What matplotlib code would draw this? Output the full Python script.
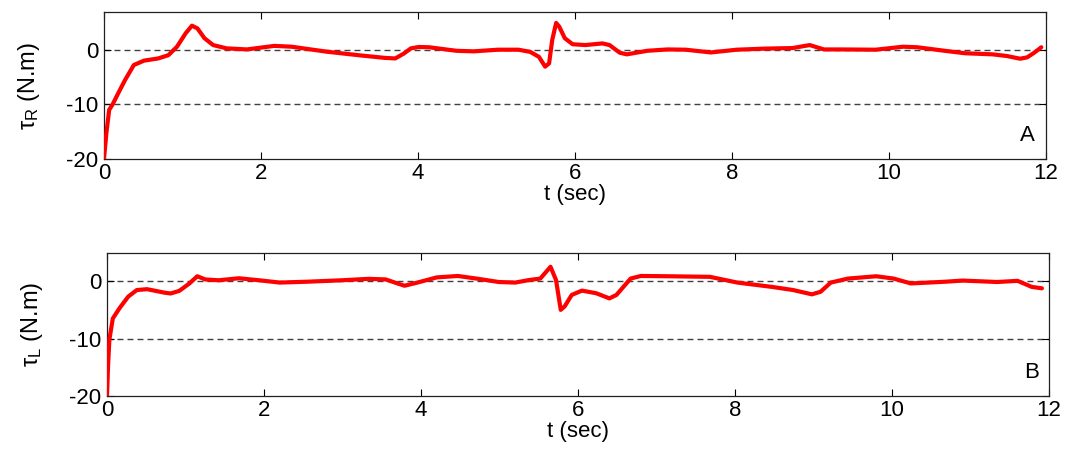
import matplotlib
matplotlib.use("Agg")
import matplotlib.pyplot as plt

plt.rcParams['font.family'] = ['Liberation Sans', 'DejaVu Sans']
plt.rcParams['mathtext.fontset'] = 'custom'
plt.rcParams['mathtext.rm'] = 'Liberation Sans'
plt.rcParams['mathtext.it'] = 'Liberation Sans'
plt.rcParams['lines.scale_dashes'] = False
plt.rcParams['axes.unicode_minus'] = False

# ---- data: right wheel torque (panel A) ----
t_R = [0.0, 0.03, 0.066, 0.11, 0.18, 0.27, 0.38, 0.51, 0.69, 0.82, 0.93, 1.04,
       1.12, 1.19, 1.28, 1.39, 1.56, 1.82, 2.17, 2.39, 2.83, 3.27, 3.58, 3.71,
       3.82, 3.91, 4.01, 4.14, 4.49, 4.71, 5.02, 5.28, 5.43, 5.54, 5.62, 5.67,
       5.71, 5.76, 5.80, 5.87, 5.97, 6.13, 6.35, 6.44, 6.57, 6.66, 6.92, 7.18,
       7.41, 7.73, 8.06, 8.42, 8.77, 8.99, 9.17, 9.39, 9.83, 10.18, 10.36,
       10.71, 10.97, 11.32, 11.5, 11.67, 11.76, 11.85, 11.94]
tau_R = [-20.0, -15.3, -11.0, -10.0, -8.0, -5.5, -2.8, -2.0, -1.6, -1.0, 0.55, 3.0,
         4.4, 3.9, 2.1, 0.85, 0.25, 0.05, 0.7, 0.55, -0.35, -1.05, -1.5, -1.6,
         -0.7, 0.25, 0.5, 0.45, -0.2, -0.3, 0.0, 0.0, -0.4, -1.3, -3.1, -2.5,
         1.8, 4.9, 4.2, 2.1, 1.0, 0.85, 1.15, 0.85, -0.55, -0.85, -0.2, 0.05,
         0.0, -0.5, 0.0, 0.2, 0.3, 0.85, 0.05, 0.05, 0.0, 0.55, 0.45,
         -0.2, -0.65, -0.85, -1.15, -1.65, -1.4, -0.55, 0.45]

# ---- data: left wheel torque (panel B) ----
t_L = [0.0, 0.013, 0.03, 0.074, 0.16, 0.27, 0.38, 0.51, 0.73, 0.81, 0.92, 1.05,
       1.15, 1.25, 1.42, 1.68, 1.94, 2.2, 2.55, 2.99, 3.33, 3.55, 3.7, 3.79,
       3.94, 4.2, 4.47, 4.73, 4.99, 5.2, 5.38, 5.52, 5.65, 5.72, 5.78, 5.83,
       5.92, 6.05, 6.23, 6.4, 6.49, 6.67, 6.8, 7.15, 7.68, 8.03, 8.47, 8.74,
       8.98, 9.09, 9.22, 9.44, 9.8, 10.02, 10.24, 10.68, 10.9, 11.34, 11.6,
       11.78, 11.91]
tau_L = [-20.0, -14.9, -10.2, -6.5, -4.7, -2.7, -1.55, -1.4, -2.0, -2.15, -1.7, -0.4,
         0.85, 0.3, 0.15, 0.5, 0.15, -0.25, -0.1, 0.15, 0.4, 0.3, -0.4, -0.8,
         -0.3, 0.65, 0.9, 0.4, -0.15, -0.25, 0.2, 0.45, 2.5, 0.2, -5.0, -4.4,
         -2.4, -1.65, -2.1, -3.0, -2.4, 0.45, 0.9, 0.85, 0.75, -0.25, -1.0, -1.55,
         -2.3, -1.85, -0.25, 0.45, 0.85, 0.45, -0.4, -0.1, 0.1, -0.15, 0.05,
         -1.0, -1.25]

x_ticks = [0, 2, 4, 6, 8, 10, 12]
y_ticks = [-20, -10, 0]
ref_levels = [0, -10]

panels = [
    dict(t=t_R, y=tau_R, ylim=(-20, 6.9), ylabel=r'$\tau_\mathregular{R}$ (N.m)', tag='A',
         rect=[104/1073, 1-159/454, 942/1073, 147/454], tagpos=(0.980, 0.163)),
    dict(t=t_L, y=tau_L, ylim=(-20, 4.9), ylabel=r'$\tau_\mathregular{L}$ (N.m)', tag='B',
         rect=[107/1073, 1-396/454, 942/1073, 143/454], tagpos=(0.981, 0.161)),
]

fig = plt.figure(figsize=(10.73, 4.54), dpi=100)
fs = 16
for p in panels:
    ax = fig.add_axes(p['rect'])
    for lv in ref_levels:
        ax.axhline(lv, color='#404040', lw=1.0, dashes=(4.3, 2.9), zorder=1)
    ax.plot(p['t'], p['y'], color='#ff0000', lw=3.0, zorder=3,
            solid_joinstyle='round', solid_capstyle='round')
    ax.set_xlim(0, 12)
    ax.set_ylim(*p['ylim'])
    ax.set_xticks(x_ticks)
    ax.set_yticks(y_ticks)
    ax.tick_params(direction='in', length=5, width=0.8, top=True, right=True,
                   labelsize=fs)
    ax.tick_params(axis='x', pad=3)
    ax.tick_params(axis='y', pad=4)
    for s in ax.spines.values():
        s.set_linewidth(0.9)
        s.set_color('#202020')
    ax.set_xlabel('t (sec)', fontsize=fs, labelpad=0)
    ax.set_ylabel(p['ylabel'], fontsize=17)
    ax.yaxis.set_label_coords(-0.066, 0.5)
    ax.text(p['tagpos'][0], p['tagpos'][1], p['tag'], transform=ax.transAxes,
            ha='center', va='center', fontsize=fs)

fig.savefig('out.png', dpi=100)
